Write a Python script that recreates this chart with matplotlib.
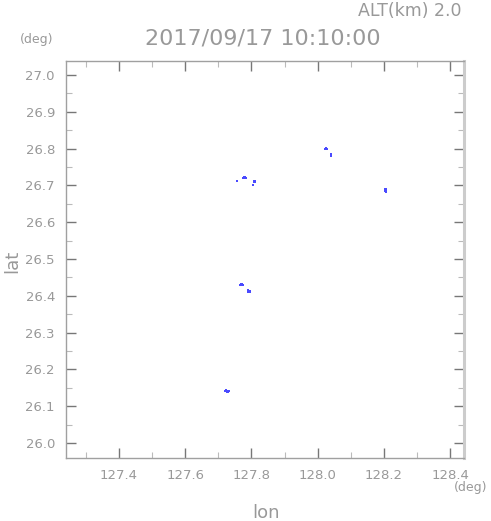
import matplotlib
matplotlib.use("Agg")
import matplotlib.pyplot as plt
from matplotlib.ticker import MultipleLocator

# --- Daten: Radar-Echo-Pixel (lon, lat) auf ALT 2.0 km ----------------------
TIME_LABEL = "2017/09/17 10:10:00"
ALT_LABEL = "ALT(km) 2.0"

echo_lon = [
    127.776, 127.779, 127.782, 127.785, 127.779, 127.782,   # Zelle bei 26.72
    127.757,
    127.808, 127.811, 127.808, 127.811,
    127.805,
    127.770, 127.773, 127.767, 127.770, 127.773, 127.776,   # Zelle bei 26.43
    127.791, 127.794, 127.797, 127.791, 127.794, 127.797, 127.791,
    127.721, 127.724, 127.727, 127.730, 127.733, 127.724, 127.727, 127.730,  # 26.14
    128.026, 128.026, 128.023, 128.029,                      # 26.80
    128.041, 128.041,
    128.204, 128.207, 128.204, 128.207, 128.204, 128.207, 128.207,  # 26.685
]
echo_lat = [
    26.719, 26.719, 26.719, 26.719, 26.722, 26.722,
    26.713,
    26.713, 26.713, 26.710, 26.710,
    26.702,
    26.431, 26.431, 26.428, 26.428, 26.428, 26.428,
    26.413, 26.413, 26.413, 26.410, 26.410, 26.410, 26.416,
    26.142, 26.142, 26.142, 26.142, 26.142, 26.145, 26.139, 26.139,
    26.798, 26.801, 26.798, 26.798,
    26.781, 26.784,
    26.690, 26.690, 26.687, 26.687, 26.684, 26.684, 26.681,
]

XLIM = (127.24, 128.442)
YLIM = (25.959, 27.038)

GRAY = "#999999"

fig = plt.figure(figsize=(4.91, 5.21), dpi=100)
ax = fig.add_axes([0.1344, 0.1209, 0.8106, 0.762])

ax.scatter(echo_lon, echo_lat, s=4.5, marker="s", color="#4a4aff", linewidths=0)

ax.set_xlim(*XLIM)
ax.set_ylim(*YLIM)
ax.xaxis.set_major_locator(MultipleLocator(0.2))
ax.xaxis.set_minor_locator(MultipleLocator(0.1))
ax.yaxis.set_major_locator(MultipleLocator(0.1))
ax.yaxis.set_minor_locator(MultipleLocator(0.05))
ax.xaxis.set_major_formatter(lambda v, p: f"{v:.1f}")
ax.yaxis.set_major_formatter(lambda v, p: f"{v:.1f}")

ax.tick_params(which="both", direction="in", top=True, right=True,
               colors="#777777", labelcolor=GRAY, labelsize=9.5)
ax.tick_params(which="major", length=7, width=1)
ax.tick_params(which="minor", length=4, width=0.8, colors="#bbbbbb")
ax.tick_params(axis="x", pad=8)
ax.tick_params(axis="y", pad=8)

for side in ["left", "bottom", "top"]:
    ax.spines[side].set_color("#a0a0a0")
    ax.spines[side].set_linewidth(1)
ax.spines["right"].set_color("#cccccc")
ax.spines["right"].set_linewidth(2.2)

# Beschriftungen im Stil der Radar-Plots
fig.text(0.535, 1 - 39 / 521, TIME_LABEL, ha="center", va="center",
         fontsize=16, color=GRAY)
fig.text(462 / 491, 1 - 11 / 521, ALT_LABEL, ha="right", va="center",
         fontsize=12.5, color=GRAY)
fig.text(37 / 491, 1 - 39 / 521, "(deg)", ha="center", va="center",
         fontsize=9, color=GRAY)
fig.text(471 / 491, 1 - 488 / 521, "(deg)", ha="center", va="center",
         fontsize=9, color=GRAY)
fig.text(266 / 491, 1 - 513 / 521, "lon", ha="center", va="center",
         fontsize=13, color=GRAY)
fig.text(12 / 491, 1 - 261 / 521, "lat", ha="center", va="center",
         fontsize=13, color=GRAY, rotation=90)

fig.savefig("out.png", dpi=100)
